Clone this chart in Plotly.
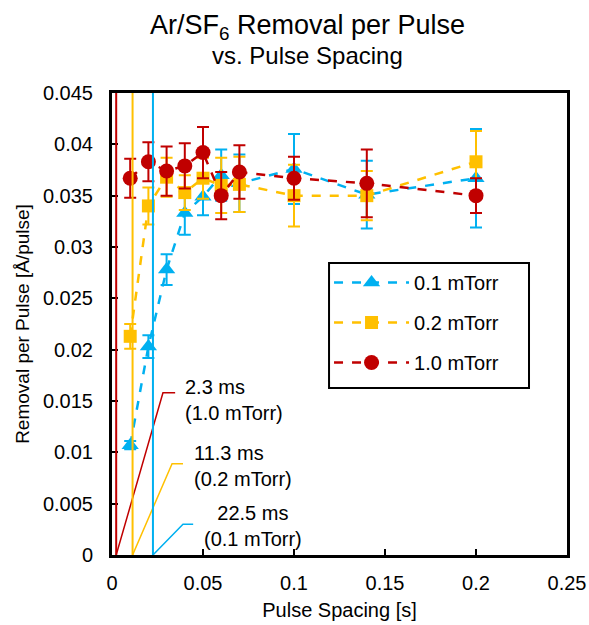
"""Ar/SF6 removal per pulse vs. pulse spacing"""

import plotly.graph_objects as go

FONT = "Liberation Sans, Arial, sans-serif"

pulse_spacing = [0.01, 0.02, 0.03, 0.04, 0.05, 0.06, 0.07, 0.1, 0.14, 0.2]

removal_01 = [0.0107, 0.0203, 0.0278, 0.0333, 0.0349, 0.0370, 0.0362, 0.0376, 0.0351, 0.0367]
error_01 = [0.0004, 0.0011, 0.0015, 0.0021, 0.0018, 0.0025, 0.0028, 0.0034, 0.0033, 0.0048]

removal_02 = [0.0213, 0.0340, 0.0368, 0.0353, 0.0367, 0.0360, 0.0361, 0.0350, 0.0350, 0.0383]
error_02 = [0.0012, 0.0018, 0.0019, 0.0017, 0.0020, 0.0027, 0.0027, 0.0030, 0.0024, 0.0030]

removal_10 = [0.0367, 0.0383, 0.0374, 0.0379, 0.0392, 0.0350, 0.0373, 0.0367, 0.0362, 0.0350]
error_10 = [0.0019, 0.0019, 0.0024, 0.0022, 0.0025, 0.0023, 0.0026, 0.0021, 0.0033, 0.0017]

# residence times (s) marked with vertical lines
residence_times = [0.0023, 0.0113, 0.0225]
residence_labels = ["2.3 ms<br>(1.0 mTorr)", "11.3 ms<br>(0.2 mTorr)", "22.5 ms<br>(0.1 mTorr)"]

BLUE = "#00B0F0"
ORANGE = "#FFC000"
RED = "#C00000"

series = [
    ("0.1 mTorr", removal_01, error_01, BLUE, "triangle-up", 15),
    ("0.2 mTorr", removal_02, error_02, ORANGE, "square", 13),
    ("1.0 mTorr", removal_10, error_10, RED, "circle", 15),
]

fig = go.Figure()

for name, values, errors, color, symbol, size in series:
    fig.add_trace(
        go.Scatter(
            x=pulse_spacing,
            y=values,
            name=name,
            legendgroup=name,
            mode="lines+markers",
            line=dict(color=color, width=2.5, dash="dash"),
            marker=dict(color=color, symbol=symbol, size=size),
            error_y=dict(
                type="data",
                array=errors,
                visible=True,
                color=color,
                thickness=2,
                width=6,
            ),
        )
    )

# vertical residence-time lines and label leaders
line_colors = [RED, ORANGE, BLUE]
leader_bend = [(0.028, 0.0158), (0.033, 0.0089), (0.039, 0.0030)]
leader_end = [0.0347, 0.039, 0.0446]
label_pos = [(0.039, 0.0151, "left"), (0.044, 0.0087, "left"), (0.0776, 0.0028, "center")]

# legend frame (drawn as a shape so it can be wider than the entries)
shapes = [
    dict(type="rect", xref="paper", yref="paper", x0=0.477, x1=0.9165, y0=0.3615, y1=0.632,
         line=dict(color="#000", width=2), fillcolor="white", layer="above")
]
annotations = []
for t, color, (bx, by), ex, (lx, ly, anchor), text in zip(
    residence_times, line_colors, leader_bend, leader_end, label_pos, residence_labels
):
    shapes.append(
        dict(type="line", xref="x", yref="y", x0=t, x1=t, y0=0, y1=0.045,
             line=dict(color=color, width=2), layer="above")
    )
    shapes.append(
        dict(type="path", xref="x", yref="y",
             path=f"M {t},0 L {bx},{by} L {ex},{by}",
             line=dict(color=color, width=1.5), layer="above")
    )
    annotations.append(
        dict(x=lx, y=ly, xref="x", yref="y", text=text, showarrow=False,
             xanchor=anchor, yanchor="middle", align=anchor,
             font=dict(family=FONT, size=20, color="#000"))
    )

annotations.append(
    dict(x=0.4286, y=1.143, xref="paper", yref="paper",
         text="Ar/SF<sub>6</sub> Removal per Pulse", showarrow=False,
         xanchor="center", yanchor="middle",
         font=dict(family=FONT, size=27, color="#000"))
)
annotations.append(
    dict(x=0.4286, y=1.082, xref="paper", yref="paper",
         text="vs. Pulse Spacing", showarrow=False,
         xanchor="center", yanchor="middle",
         font=dict(family=FONT, size=24, color="#000"))
)

fig.update_layout(
    width=589,
    height=625,
    margin=dict(l=112, r=22, t=93, b=70),
    paper_bgcolor="white",
    plot_bgcolor="white",
    font=dict(family=FONT, size=20, color="#000"),
    shapes=shapes,
    annotations=annotations,
    xaxis=dict(
        range=[0, 0.25],
        dtick=0.05,
        tickformat="~g",
        showgrid=False,
        zeroline=False,
        showline=True,
        linecolor="#000",
        linewidth=3,
        mirror=True,
        ticks="inside",
        ticklen=6,
        tickwidth=2,
        tickcolor="#000",
        ticklabelstandoff=8,
        tickfont=dict(size=20),
        automargin=False,
        title=dict(text="Pulse Spacing [s]", font=dict(size=20), standoff=10),
    ),
    yaxis=dict(
        range=[0, 0.045],
        dtick=0.005,
        tickformat="~g",
        showgrid=False,
        zeroline=False,
        showline=True,
        linecolor="#000",
        linewidth=3,
        mirror=True,
        ticks="inside",
        ticklen=6,
        tickwidth=2,
        tickcolor="#000",
        ticklabelstandoff=12,
        tickfont=dict(size=20),
        automargin=False,
        title=dict(text="Removal per Pulse [Å/pulse]", font=dict(size=19), standoff=9),
    ),
    showlegend=True,
    legend=dict(
        x=0.477,
        y=0.632,
        xanchor="left",
        yanchor="top",
        bgcolor="rgba(0,0,0,0)",
        borderwidth=0,
        font=dict(family=FONT, size=20, color="#000"),
        itemwidth=75,
        tracegroupgap=11,
    ),
)

# drop the default page margin so the figure fills the window exactly
fig.write_html(
    "out.html",
    config={"displayModeBar": False},
    post_script="document.body.style.margin = '0';",
)
